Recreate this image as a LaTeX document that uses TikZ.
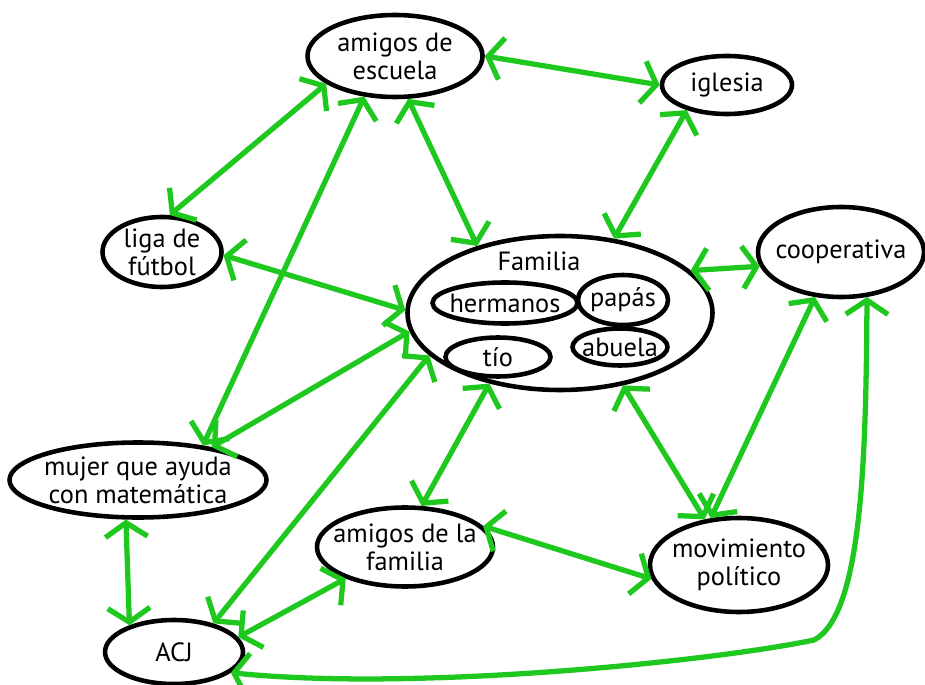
\documentclass[tikz,border=0pt]{standalone}
\usepackage{fontspec}
\setmainfont{PT Sans}
\usepackage{xcolor}
\usetikzlibrary{arrows.meta,shapes.geometric}
\definecolor{linkgreen}{RGB}{30,200,30}
\tikzset{
	lbl/.style={align=center,font=\fontsize{15}{16}\selectfont,inner sep=0pt},
	bubble/.style n args={3}{draw,ellipse,line width=2.6pt,inner sep=0pt,
		minimum width=#1*0.02cm,minimum height=#2*0.02cm,label={[lbl]center:#3}},
	link/.style={color=linkgreen,line width=3pt,line cap=round,line join=round,
		<->,>={Straight Barb[length=8pt,width=24pt]}}
}

\begin{document}
\begin{tikzpicture}[x=0.02cm,y=-0.02cm]
		\useasboundingbox (0,0) rectangle (925,685);
		\node[bubble={175}{82}{amigos de\\escuela}] (esc) at (395,56) {};
		\node[bubble={130}{58}{iglesia}] (igl) at (727,85) {};
		\node[bubble={119}{70}{liga de\\fútbol}] (liga) at (162,252) {};
		\node[bubble={305}{154}{}] (fam) at (560,313) {};
		\node[lbl] (famtitle) at (539,261) {Familia};
		\node[bubble={145}{41}{hermanos}] (her) at (505,303) {};
		\node[bubble={90}{50}{papás}] (pap) at (623,300) {};
		\node[bubble={95}{37}{abuela}] (abu) at (620,347) {};
		\node[bubble={105}{39}{tío}] (tio) at (498,357) {};
		\node[bubble={166}{90}{cooperativa}] (coop) at (841,252) {};
		\node[bubble={257}{75}{mujer que ayuda\\con matemática}] (mujer) at (138,480) {};
		\node[bubble={138}{64}{ACJ}] (acj) at (174,652) {};
		\node[bubble={176}{79}{amigos de la\\familia}] (amf) at (405,547) {};
		\node[bubble={178}{94}{movimiento\\político}] (mov) at (739,565) {};
		%
		\path[link]
		(esc.0) edge (igl.180)
		(esc.202) edge (liga.78)
		(esc.233) edge (mujer.28)
		(esc.287) edge (fam.141)
		(igl.212) edge (fam.54)
		(liga.-3) edge (fam.179)
		(fam.187) edge (mujer.24)
		(fam.198) edge (acj.36)
		(fam.225) edge (amf.68)
		(fam.311) edge (mov.127)
		(fam.18) edge (coop.190)
		(coop.240) edge (mov.121)
		(mujer.253) edge (acj.149)
		(amf.208) edge (acj.13)
		(amf.15) edge (mov.189);
		%
		\coordinate (bend) at (814,640);
		\draw[link] (coop.300) .. controls (866,460) and (862,615) .. (bend)
			.. controls (720,660) and (420,692) .. (acj.340);
\end{tikzpicture}
\end{document}
